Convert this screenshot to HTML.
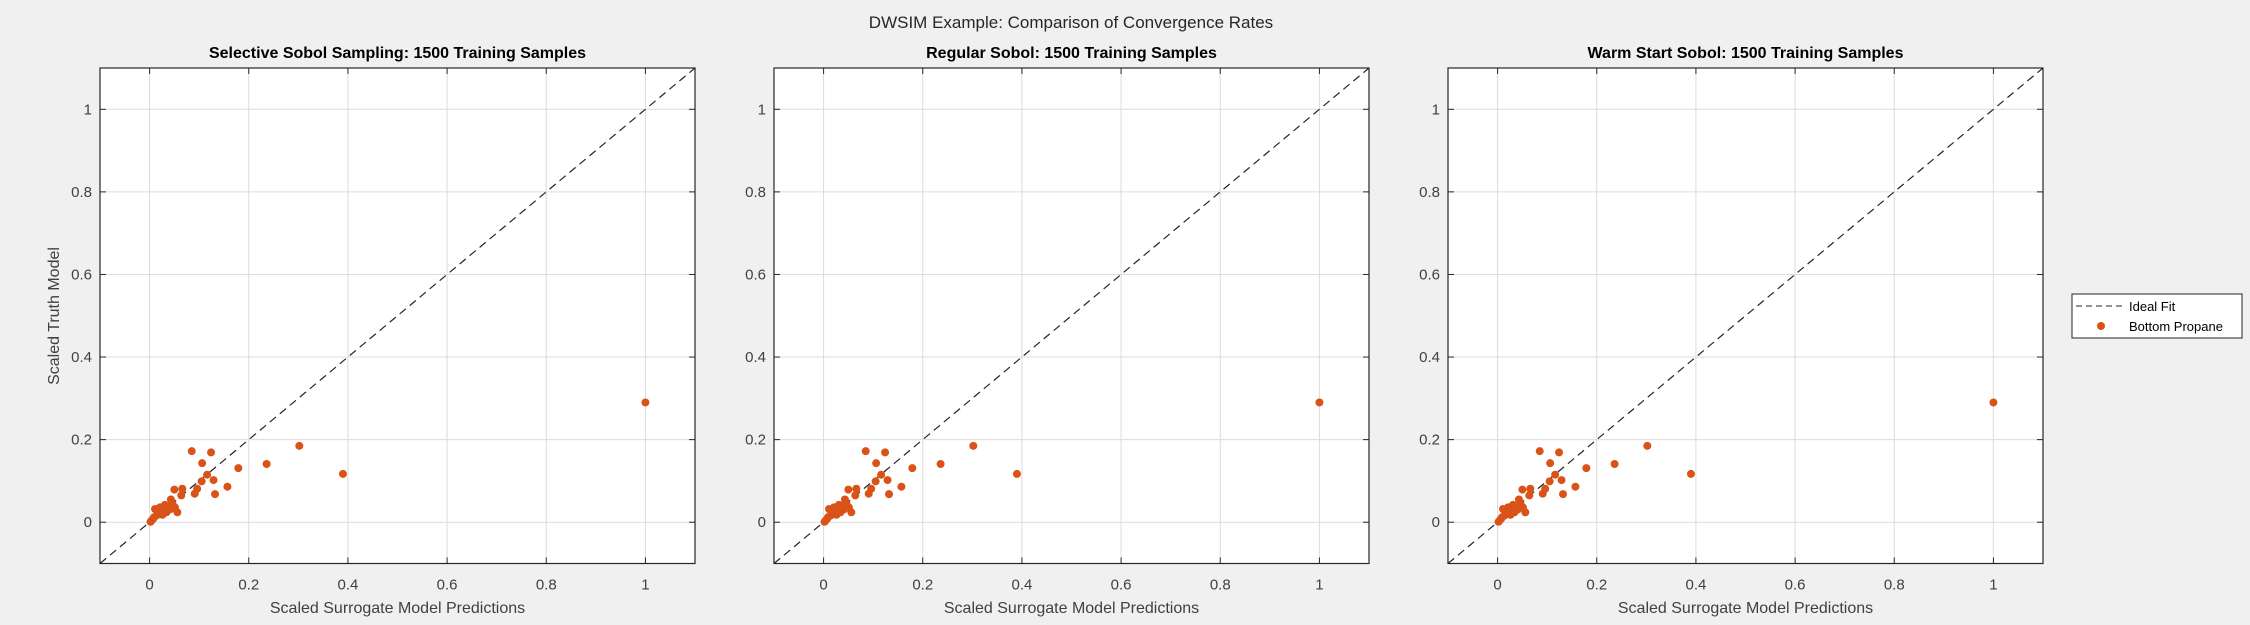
<!DOCTYPE html>
<html><head><meta charset="utf-8">
<style>
html,body{margin:0;padding:0;background:#f0f0f0;}
svg{display:block;font-family:"Liberation Sans",sans-serif;}
</style></head>
<body>
<svg id="fig" width="2250" height="625" viewBox="0 0 2250 625">
<rect width="2250" height="625" fill="#f0f0f0"/>
<text x="1071" y="28" text-anchor="middle" font-size="17" fill="#262626">DWSIM Example: Comparison of Convergence Rates</text>
<g id="panels"></g>
<g>
<rect x="2072" y="294" width="170" height="44" fill="#fff" stroke="#262626" stroke-width="1"/>
<line x1="2076" y1="306" x2="2126" y2="306" stroke="#262626" stroke-width="1" stroke-dasharray="6,4"/>
<text x="2129" y="311" font-size="13" fill="#000">Ideal Fit</text>
<circle cx="2101" cy="326" r="4" fill="#D95319"/>
<text x="2129" y="331" font-size="13" fill="#000">Bottom Propane</text>
</g>
</svg>
<script>
const panelTitles = ["Selective Sobol Sampling: 1500 Training Samples","Regular Sobol: 1500 Training Samples","Warm Start Sobol: 1500 Training Samples"];
const xTicks = [0,0.2,0.4,0.6,0.8,1];
const yTicks = [0,0.2,0.4,0.6,0.8,1];
const predX = [0.085,0.124,0.106,0.179,0.236,0.302,0.39,0.116,0.129,0.105,0.157,0.132,0.096,0.091,0.05,0.066,0.064,0.043,0.056,0.051,0.011,0.021,0.031,0.034,0.007,0.014,0.024,0.004,0.018,0.028,0.038,0.041,0.046,0.002,0.009,0.016,0.026,0.03,0.036,1.0];
const truthY = [0.172,0.169,0.143,0.131,0.141,0.185,0.117,0.115,0.102,0.099,0.086,0.068,0.081,0.069,0.079,0.081,0.065,0.055,0.024,0.036,0.032,0.036,0.042,0.024,0.008,0.016,0.024,0.004,0.028,0.03,0.034,0.031,0.047,0.001,0.012,0.02,0.018,0.038,0.03,0.29];
const NS="http://www.w3.org/2000/svg";
const g=document.getElementById('panels');
function mk(t,a,p){const e=document.createElementNS(NS,t);for(const k in a)e.setAttribute(k,a[k]);(p||g).appendChild(e);return e;}
const lefts=[100,774,1448], W=595, topY=68, bot=563.5;
const xmin=-0.1,xmax=1.1,ymin=-0.1,ymax=1.1;
panelTitles.forEach((title,i)=>{
  const L=lefts[i];
  const sx=v=>L+(v-xmin)/(xmax-xmin)*W;
  const sy=v=>bot-(v-ymin)/(ymax-ymin)*(bot-topY);
  const pg=mk('g',{});
  
  
  const bg=mk('rect',{x:L,y:topY,width:W,height:bot-topY,fill:'#fff'},pg);
  
  
  xTicks.forEach(v=>{
    const gl=mk('line',{x1:sx(v),x2:sx(v),y1:topY,y2:bot,stroke:'#dcdcdc','stroke-width':1},pg);
    
    
    mk('line',{x1:sx(v),x2:sx(v),y1:bot,y2:bot-6,stroke:'#262626'},pg);
    mk('line',{x1:sx(v),x2:sx(v),y1:topY,y2:topY+6,stroke:'#262626'},pg);
    const t=mk('text',{x:sx(v),y:bot+26,'text-anchor':'middle','font-size':15,fill:'#404040'},pg);
    t.textContent=String(v);
    
    
  });
  yTicks.forEach(v=>{
    const gl=mk('line',{x1:L,x2:L+W,y1:sy(v),y2:sy(v),stroke:'#dcdcdc','stroke-width':1},pg);
    
    
    mk('line',{x1:L,x2:L+6,y1:sy(v),y2:sy(v),stroke:'#262626'},pg);
    mk('line',{x1:L+W,x2:L+W-6,y1:sy(v),y2:sy(v),stroke:'#262626'},pg);
    const t=mk('text',{x:L-8,y:sy(v)+5,'text-anchor':'end','font-size':15,fill:'#404040'},pg);
    t.textContent=String(v);
    
    
  });
  const fit=mk('line',{x1:sx(xmin),y1:sy(ymin),x2:sx(xmax),y2:sy(ymax),stroke:'#262626','stroke-width':1.2,'stroke-dasharray':'8,5'},pg);
  
  
  predX.forEach((v,j)=>{
    const c=mk('circle',{cx:sx(v),cy:sy(truthY[j]),r:4,fill:'#D95319'},pg);
    
    
  });
  const fr=mk('rect',{x:L,y:topY,width:W,height:bot-topY,fill:'none',stroke:'#262626','stroke-width':1.2},pg);
  
  
  const tt=mk('text',{x:L+W/2,y:58,'text-anchor':'middle','font-size':16,'font-weight':'bold',fill:'#000'},pg);
  tt.textContent=title;
  
  
  const xl=mk('text',{x:L+W/2,y:613,'text-anchor':'middle','font-size':16,fill:'#404040'},pg);
  xl.textContent='Scaled Surrogate Model Predictions';
  
  
  if(i===0){
    const yl=mk('text',{x:0,y:0,'text-anchor':'middle','font-size':16,fill:'#404040',transform:'translate(59,316) rotate(-90)'},pg);
    yl.textContent='Scaled Truth Model';
    
    
  }
});
</script>
</body></html>
